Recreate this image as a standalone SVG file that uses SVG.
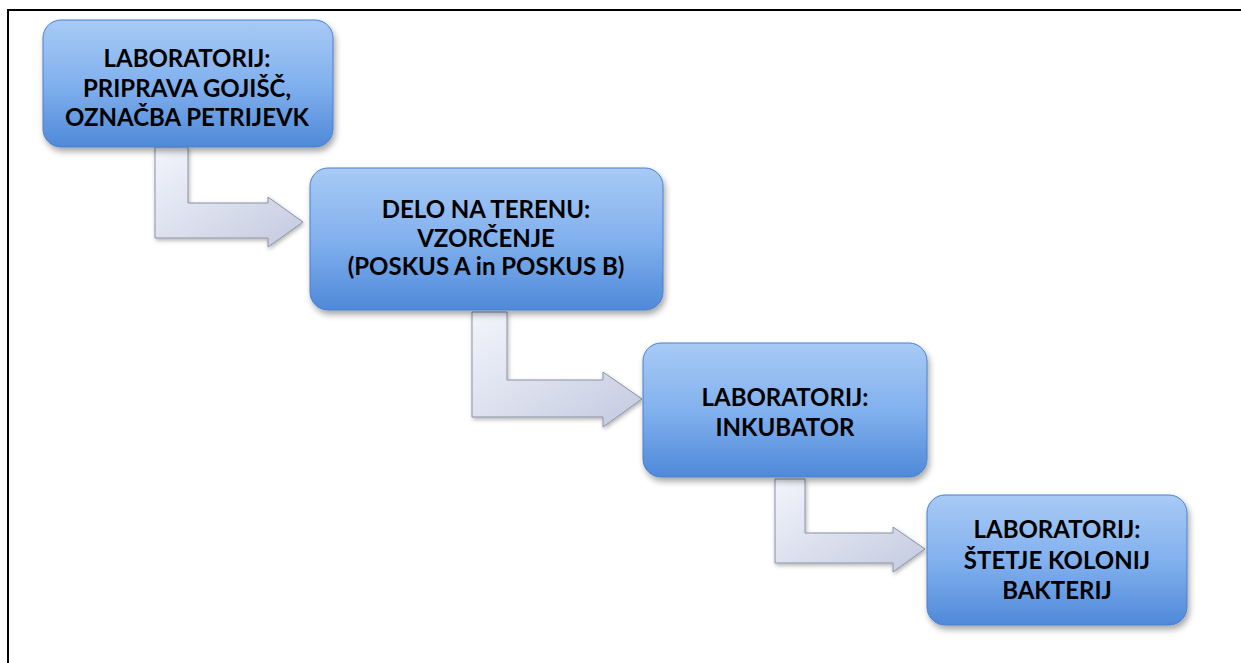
<svg xmlns="http://www.w3.org/2000/svg" width="1241" height="663" viewBox="0 0 1241 663">
<defs>
<linearGradient id="boxg" x1="0" y1="0" x2="0" y2="1">
<stop offset="0" stop-color="#a8caf5"/>
<stop offset="0.5" stop-color="#82b1ee"/>
<stop offset="1" stop-color="#4f89d9"/>
</linearGradient>
<linearGradient id="arrg" x1="0" y1="0" x2="1" y2="1">
<stop offset="0" stop-color="#f3f5fc"/>
<stop offset="1" stop-color="#c3cadf"/>
</linearGradient>
<filter id="sh" x="-10%" y="-10%" width="125%" height="130%">
<feDropShadow dx="2" dy="4" stdDeviation="3" flood-color="#000" flood-opacity="0.35"/>
</filter>
<filter id="ash" x="-10%" y="-10%" width="125%" height="130%">
<feDropShadow dx="1" dy="2" stdDeviation="2" flood-color="#000" flood-opacity="0.3"/>
</filter>
</defs>
<style>
.box{fill:url(#boxg);stroke:#4a7fcc;stroke-width:1;filter:url(#sh)}
.arr{fill:url(#arrg);stroke:#8c92a4;stroke-width:1;filter:url(#ash)}
.t{font-family:Lato,"Liberation Sans",sans-serif;font-weight:700;font-size:24px;fill:#000;text-anchor:middle}
.frame{stroke:#000;stroke-width:2;fill:none}
</style>
<rect width="1241" height="663" fill="#fff"/>
<path class="frame" d="M8,663 L8,10 L1241,10"/>
<g id="connectors">
<path class="arr" d="M155,147 L188,147 L188,203 L268,203 L268,197 L303,222 L268,247 L268,238 L155,238 Z"/>
<path class="arr" d="M472,312 L507,312 L507,380 L603,380 L603,372 L642,399 L603,427 L603,417 L472,417 Z"/>
<path class="arr" d="M775,479 L805,479 L805,533 L893,533 L893,527 L925,549 L893,572 L893,563 L775,563 Z"/>
</g>
<g id="node1">
<rect class="box" x="43" y="20" width="290" height="127" rx="18"/>
<text class="t" x="187" y="67">LABORATORIJ:</text>
<text class="t" x="187" y="97">PRIPRAVA GOJIŠČ,</text>
<text class="t" x="187" y="126">OZNAČBA PETRIJEVK</text>
</g>
<g id="node2">
<rect class="box" x="310" y="168" width="353" height="142" rx="18"/>
<text class="t" x="486" y="218">DELO NA TERENU:</text>
<text class="t" x="486" y="247">VZORČENJE</text>
<text class="t" x="486" y="275">(POSKUS A in POSKUS B)</text>
</g>
<g id="node3">
<rect class="box" x="643" y="343" width="284" height="134" rx="18"/>
<text class="t" x="785" y="406">LABORATORIJ:</text>
<text class="t" x="785" y="436">INKUBATOR</text>
</g>
<g id="node4">
<rect class="box" x="927" y="495" width="260" height="130" rx="18"/>
<text class="t" x="1057" y="538">LABORATORIJ:</text>
<text class="t" x="1057" y="569">ŠTETJE KOLONIJ</text>
<text class="t" x="1057" y="599">BAKTERIJ</text>
</g>
</svg>
